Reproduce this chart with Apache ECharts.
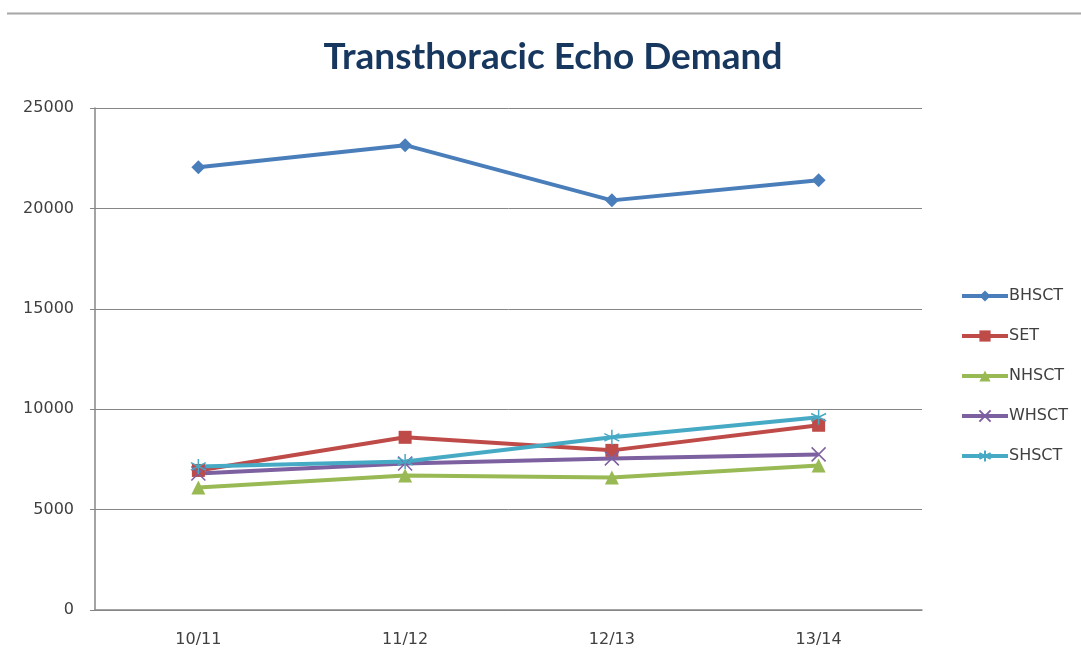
<!DOCTYPE html>
<html>
<head>
<meta charset="utf-8">
<script src="https://cdn.jsdelivr.net/npm/echarts@6/dist/echarts.min.js"></script>
<style>
  html, body { margin: 0; padding: 0; background: #fff; }
  #container { width: 1081px; height: 662px; }
</style>
</head>
<body>
<div id="container"></div>
<script>
var dom = document.getElementById('container');
var myChart = echarts.init(dom, null, { renderer: 'canvas' });

// data
const years = ['10/11', '11/12', '12/13', '13/14'];
const bhsct = [22050, 23150, 20400, 21400];
const set = [6950, 8600, 7950, 9200];
const nhsct = [6100, 6700, 6600, 7200];
const whsct = [6800, 7300, 7550, 7750];
const shsct = [7150, 7400, 8600, 9600];
const yTicks = [0, 5000, 10000, 15000, 20000, 25000];

const TITLE_FONT = 'Lato';
const FONT = 'DejaVu Sans';
const xMark = 'path://M0,0L10,10M10,0L0,10';
const starMark = 'path://M5,0L5,10M0.7,2.5L9.3,7.5M9.3,2.5L0.7,7.5';

function makeSeries(name, data, color, symbol, size, stroked) {
  return {
    name: name,
    type: 'line',
    data: data,
    symbol: symbol,
    symbolSize: size,
    color: color,
    lineStyle: { width: 4, color: color },
    itemStyle: stroked
      ? { color: color, borderColor: color, borderWidth: 1.5 }
      : { color: color },
    emphasis: { disabled: true },
    z: 2
  };
}

var option = {
  animation: false,
  backgroundColor: '#fff',
  title: {
    text: 'Transthoracic Echo Demand',
    left: 548,
    textAlign: 'center',
    top: 34,
    textStyle: { fontFamily: TITLE_FONT, fontSize: 37, fontWeight: 'bold', color: '#17375E' }
  },
  graphic: [
    { type: 'line', shape: { x1: 7, y1: 13.5, x2: 1081, y2: 13.5 }, style: { stroke: '#a6a6a6', lineWidth: 2 } }
  ],
  legend: {
    orient: 'vertical',
    left: 955,
    top: 283,
    itemWidth: 46,
    itemHeight: 14,
    itemGap: 24,
    lineStyle: { width: 4 },
    textStyle: { fontFamily: FONT, fontSize: 16, lineHeight: 12, color: '#404040', padding: [0, 0, 0, -4] },
    data: ['BHSCT', 'SET', 'NHSCT', 'WHSCT', 'SHSCT']
  },
  grid: { left: 95, right: 159, top: 108, bottom: 52 },
  xAxis: {
    type: 'category',
    data: years,
    boundaryGap: true,
    axisLine: { lineStyle: { color: '#868686', width: 1.5 } },
    axisTick: { show: false },
    axisLabel: { fontFamily: FONT, fontSize: 16, color: '#404040', margin: 22 }
  },
  yAxis: {
    type: 'value',
    min: yTicks[0],
    max: yTicks[yTicks.length - 1],
    interval: 5000,
    axisLine: { show: true, lineStyle: { color: '#868686', width: 1.5 } },
    axisTick: { show: true, length: 5, lineStyle: { color: '#868686' } },
    splitLine: { lineStyle: { color: '#868686', width: 1 } },
    axisLabel: { fontFamily: FONT, fontSize: 16, color: '#404040', margin: 21, formatter: function (v) { return String(v); } }
  },
  series: [
    makeSeries('BHSCT', bhsct, '#4A7EBB', 'diamond', 14, false),
    makeSeries('SET', set, '#BE4B48', 'rect', 13, false),
    makeSeries('NHSCT', nhsct, '#98B954', 'triangle', 14, false),
    makeSeries('WHSCT', whsct, '#7D60A0', xMark, 14, true),
    makeSeries('SHSCT', shsct, '#46AAC5', starMark, 15, true)
  ]
};

myChart.setOption(option);
window.addEventListener('resize', myChart.resize);
</script>
</body>
</html>
